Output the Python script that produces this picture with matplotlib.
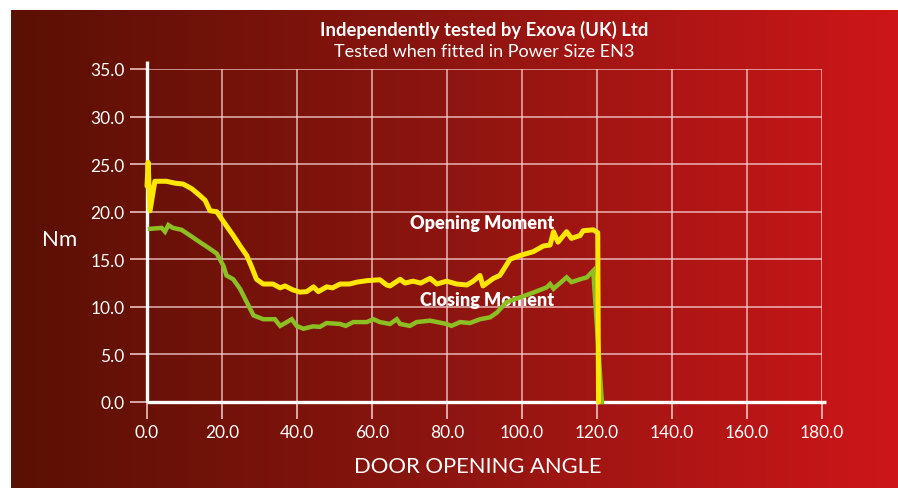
import numpy as np
import matplotlib.pyplot as plt
from matplotlib.colors import LinearSegmentedColormap

plt.rcParams["font.family"] = ["Lato", "DejaVu Sans"]

# door opening angle (deg) vs moment (Nm)
open_angle = [0, 0.3, 0.8, 2.1, 5.2, 7.5, 9.7, 12.0, 14.1, 15.5, 16.8, 18.6, 20.5,
              23.0, 25.0, 26.6, 27.9, 29.2, 31.0, 33.6, 35.5, 36.8, 38.8, 40.8,
              42.6, 44.4, 45.7, 47.9, 49.5, 51.5, 54.0, 56.0, 58.6, 62.1, 63.9,
              64.8, 67.5, 68.8, 70.9, 73.0, 75.5, 77.3, 79.9, 82.6, 85.3, 87.0,
              88.8, 89.6, 92.4, 94.1, 96.8, 99.5, 103.0, 105.7, 107.5, 108.4,
              109.6, 111.9, 113.2, 115.5, 116.3, 119.0, 120.2, 120.4]
open_moment = [22.7, 25.2, 20.1, 23.2, 23.2, 23.0, 22.9, 22.4, 21.7, 21.2, 20.1,
               20.0, 18.9, 17.5, 16.3, 15.4, 14.2, 12.9, 12.4, 12.4, 12.0, 12.2,
               11.8, 11.55, 11.6, 12.1, 11.6, 12.1, 12.0, 12.4, 12.4, 12.6, 12.75,
               12.85, 12.3, 12.2, 12.9, 12.5, 12.7, 12.5, 13.0, 12.4, 12.7, 12.4,
               12.3, 12.7, 13.3, 12.2, 13.0, 13.3, 15.0, 15.4, 15.8, 16.4, 16.5,
               17.9, 16.8, 17.9, 17.2, 17.5, 18.0, 18.1, 17.8, 0.0]

close_angle = [0.8, 3.9, 4.8, 5.7, 6.9, 9.2, 11.5, 14.1, 16.8, 18.6, 20.4, 21.2,
               23.0, 24.8, 26.6, 28.4, 31.0, 34.1, 35.5, 37.3, 38.6, 39.9, 41.7,
               44.3, 46.1, 47.9, 51.5, 53.0, 55.0, 58.6, 60.4, 62.1, 64.8, 66.6,
               67.5, 70.1, 71.9, 75.5, 79.9, 81.2, 83.5, 86.1, 88.8, 91.5, 93.3,
               95.9, 99.5, 103.0, 106.6, 107.5, 108.4, 111.9, 113.2, 115.5, 117.3,
               119.0, 121.3]
close_moment = [18.2, 18.3, 17.9, 18.6, 18.3, 18.1, 17.5, 16.8, 16.1, 15.6, 14.3,
                13.3, 12.9, 11.9, 10.5, 9.1, 8.7, 8.7, 8.0, 8.4, 8.7, 8.0, 7.7,
                7.95, 7.9, 8.3, 8.2, 8.0, 8.4, 8.4, 8.7, 8.4, 8.2, 8.7, 8.2, 8.0,
                8.4, 8.55, 8.2, 8.0, 8.4, 8.3, 8.7, 8.9, 9.4, 10.5, 11.0, 11.5,
                12.05, 12.4, 11.9, 13.1, 12.6, 12.9, 13.1, 13.8, 0.0]

x_ticks = np.arange(0, 181, 20)
y_ticks = np.arange(0, 36, 5)

W, H = 898, 489
fig = plt.figure(figsize=(W / 100, H / 100), dpi=100)

# red gradient panel
bg = fig.add_axes([11 / W, 0, (W - 11) / W, (H - 11) / H])
grad = LinearSegmentedColormap.from_list("bg", ["#5a1003", "#8e1510", "#ce1519"])
bg.imshow(np.linspace(0, 1, 256)[None, :], aspect="auto", cmap=grad,
          extent=[0, 1, 0, 1])
bg.set_axis_off()

ax = fig.add_axes([147 / W, (H - 403) / H, 675 / W, 333 / H])
ax.set_facecolor("none")
ax.set_xlim(0, 180)
ax.set_ylim(0, 35)
ax.set_xticks(x_ticks)
ax.set_yticks(y_ticks)
ax.set_xticklabels([f"{v:.1f}" for v in x_ticks])
ax.set_yticklabels([f"{v:.1f}" for v in y_ticks])
for s in ax.spines.values():
    s.set_visible(False)
ax.grid(True, color="#f5d0d0", lw=1.1, alpha=0.85)
ax.tick_params(length=12.2, width=1.1, color="#f5d0d0", pad=4,
               labelcolor="white", labelsize=12.5)

# white axis lines
ax.plot([0, 1.006], [0, 0], transform=ax.transAxes, color="white", lw=2.4,
        clip_on=False, zorder=4, solid_capstyle="butt")
ax.plot([0, 0], [0, 1.024], transform=ax.transAxes, color="white", lw=2.4,
        clip_on=False, zorder=4, solid_capstyle="butt")

ax.plot(close_angle, close_moment, color="#8cbf22", lw=3.2, zorder=5,
        solid_joinstyle="miter", clip_on=False)
ax.plot(open_angle, open_moment, color="#ffe600", lw=3.6, zorder=6,
        solid_joinstyle="round", solid_capstyle="round", clip_on=False)

ax.text(89.5, 18.9, "Opening Moment", color="white", fontsize=13,
        fontweight="heavy", ha="center", va="center")
ax.text(90.8, 10.8, "Closing Moment", color="white", fontsize=13,
        fontweight="heavy", ha="center", va="center")

fig.text(484 / W, 1 - 30 / H, "Independently tested by Exova (UK) Ltd",
         color="white", fontsize=13.3, fontweight="bold", ha="center", va="center")
fig.text(484 / W, 1 - 52 / H, "Tested when fitted in Power Size EN3",
         color="white", fontsize=13, ha="center", va="center")
fig.text(60 / W, 1 - 240 / H, "Nm", color="white", fontsize=16,
         ha="center", va="center")
fig.text(478 / W, 1 - 467 / H, "DOOR OPENING ANGLE", color="white",
         fontsize=15.8, ha="center", va="center")

fig.savefig("out.png", dpi=100, facecolor="white")
